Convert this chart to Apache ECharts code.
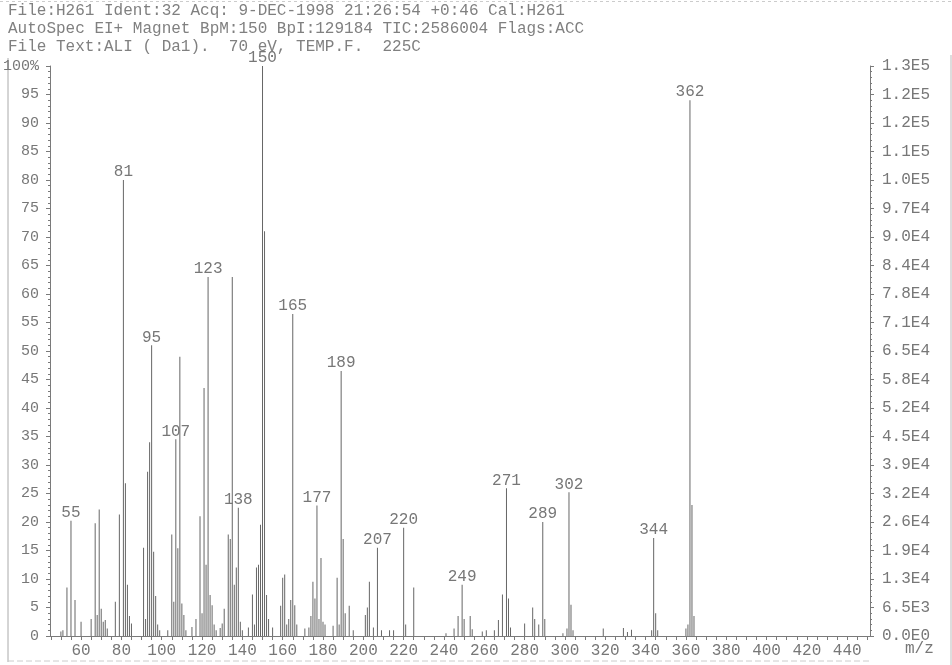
<!DOCTYPE html>
<html>
<head>
<meta charset="utf-8">
<script src="https://cdn.jsdelivr.net/npm/echarts@6/dist/echarts.min.js"></script>
<style>
  html, body { margin: 0; padding: 0; background: #fff; }
  #chart { width: 952px; height: 665px; }
</style>
</head>
<body>
<div id="chart"></div>
<script>
// EI+ spectrum of ALI (Da1): m/z and relative intensity (% of base peak m/z 150)
const peakMz = [
  50, 51, 53, 55, 57, 60, 65, 67, 68, 69, 70, 71, 72, 73, 77, 79, 81, 82, 83, 84, 85,
  91, 92, 93, 94, 95, 96, 97, 98, 99, 103, 105, 106, 107, 108, 109, 110, 111, 112,
  115, 117, 119, 120, 121, 122, 123, 124, 125, 126, 127, 129, 130, 131, 133, 134, 135,
  136, 137, 138, 139, 140, 143, 145, 146, 147, 148, 149, 150, 151, 152, 153, 155,
  159, 160, 161, 162, 163, 164, 165, 166, 167, 171, 173, 174, 175, 176, 177, 178, 179,
  180, 181, 185, 187, 188, 189, 190, 191, 193, 195, 201, 202, 203, 205, 207, 209, 213,
  215, 220, 221, 225, 241, 245, 247, 249, 250, 253, 254, 259, 261, 265, 267, 269, 271,
  272, 273, 280, 284, 285, 287, 289, 290, 299, 301, 302, 303, 304, 319, 329, 331, 333,
  343, 344, 345, 346, 360, 361, 362, 363, 364
];
const peakPct = [
  0.8, 1, 8.5, 20.2, 6.3, 2.5, 3, 19.8, 3.7, 22.2, 4.8, 2.5, 2.8, 1.3, 6, 21.3, 80, 26.8, 9, 3.5, 2.2,
  15.5, 3, 28.8, 34, 51, 14.8, 7, 2, 1, 1, 17.8, 6, 34.5, 15.4, 49, 5.7, 3.7, 1,
  1.6, 3, 21, 4, 43.5, 12.5, 63, 7.2, 5.4, 2, 1, 1.4, 2.2, 4.8, 17.8, 17, 63,
  9, 12, 22.5, 2.5, 1, 1.5, 7.3, 2, 12, 12.5, 19.5, 100, 71, 7.2, 3, 1.5,
  5.3, 10.2, 10.8, 2, 3, 6.3, 56.5, 5.4, 2, 1.3, 1.5, 3.5, 9.5, 6.6, 22.9, 3, 13.7,
  2.5, 2, 1.8, 10.2, 2, 46.5, 17, 4, 5.3, 1, 3.7, 5, 9.5, 1.5, 15.5, 1, 1,
  1, 19, 2, 8.5, 0.5, 1.3, 3.5, 9, 3, 3.5, 1.2, 0.8, 1, 1, 2.8, 7.3, 25.9,
  6.6, 1.5, 2.2, 5, 3, 2, 20, 3, 0.5, 1.3, 25.2, 5.5, 1, 1.3, 1.4, 0.7, 1.1,
  1, 17.2, 4, 1, 1.3, 2, 94, 23, 3.5
];
// peaks annotated with their nominal mass
const labeledMz = [55, 81, 95, 107, 123, 138, 150, 165, 177, 189, 207, 220, 249, 271, 289, 302, 344, 362];

// axis tick labels
const mzTicks = [60, 80, 100, 120, 140, 160, 180, 200, 220, 240, 260, 280, 300, 320, 340, 360, 380, 400, 420, 440];
const pctTicks = ['0', '5', '10', '15', '20', '25', '30', '35', '40', '45', '50', '55', '60', '65', '70', '75', '80', '85', '90', '95', '100%'];
const absTicks = ['0.0E0', '6.5E3', '1.3E4', '1.9E4', '2.6E4', '3.2E4', '3.9E4', '4.5E4', '5.2E4', '5.8E4', '6.5E4',
  '7.1E4', '7.8E4', '8.4E4', '9.0E4', '9.7E4', '1.0E5', '1.1E5', '1.2E5', '1.2E5', '1.3E5'];

const headerLines = [
  'File:H261 Ident:32 Acq: 9-DEC-1998 21:26:54 +0:46 Cal:H261',
  'AutoSpec EI+ Magnet BpM:150 BpI:129184 TIC:2586004 Flags:ACC',
  'File Text:ALI ( Da1).  70 eV, TEMP.F.  225C'
];

const MONO = "'Liberation Mono', 'DejaVu Sans Mono', monospace";
const TXT = '#777';
const LINE = '#7a7a7a';

const minorMz = [];
for (let m = 45; m <= 450; m += 5) minorMz.push(m);

const barData = peakMz.map((m, i) => {
  const item = { value: [m, peakPct[i]] };
  if (labeledMz.includes(m)) {
    item.label = { show: true, formatter: String(m) };
  }
  return item;
});

const chart = echarts.init(document.getElementById('chart'), null, { renderer: 'canvas' });

chart.setOption({
  animation: false,
  backgroundColor: '#fff',
  grid: { left: 48, right: 82, top: 66, bottom: 29 },
  xAxis: {
    type: 'value',
    min: 44.6,
    max: 451.3,
    axisLine: { show: true, lineStyle: { color: LINE, width: 1 } },
    axisTick: { show: true, customValues: minorMz, length: 4, lineStyle: { color: LINE } },
    splitLine: { show: false },
    axisLabel: {
      customValues: mzTicks,
      color: TXT,
      fontFamily: MONO,
      fontSize: 16,
      margin: 7,
      formatter: v => String(v)
    }
  },
  yAxis: [
    {
      type: 'value',
      position: 'left',
      min: 0,
      max: 100,
      interval: 5,
      axisLine: { show: true, lineStyle: { color: LINE } },
      axisTick: { show: true, length: 4, lineStyle: { color: LINE } },
      minorTick: { show: true, splitNumber: 5, length: 2, lineStyle: { color: LINE } },
      splitLine: { show: false },
      axisLabel: {
        color: TXT,
        fontFamily: MONO,
        fontSize: 15,
        margin: 11,
        padding: [0, 0, 6, 0],
        formatter: v => pctTicks[Math.round(v / 5)]
      }
    },
    {
      type: 'value',
      position: 'right',
      min: 0,
      max: 100,
      interval: 5,
      axisLine: { show: true, lineStyle: { color: LINE } },
      axisTick: { show: true, length: 4, lineStyle: { color: LINE } },
      minorTick: { show: true, splitNumber: 5, length: 2, lineStyle: { color: LINE } },
      splitLine: { show: false },
      axisLabel: {
        color: TXT,
        fontFamily: MONO,
        fontSize: 16,
        margin: 12,
        padding: [0, 0, 6, 0],
        formatter: v => absTicks[Math.round(v / 5)]
      }
    }
  ],
  series: [{
    type: 'bar',
    data: barData,
    barWidth: 1,
    barGap: '-100%',
    itemStyle: { color: '#666' },
    label: {
      show: false,
      position: 'top',
      distance: 0,
      color: TXT,
      fontFamily: MONO,
      fontSize: 16
    },
    labelLayout: { hideOverlap: false }
  }],
  graphic: [
    ...headerLines.map((t, i) => ({
      type: 'text',
      left: 8,
      top: 3 + i * 18,
      style: { text: t, fill: '#808080', font: `16px ${MONO}` }
    })),
    {
      type: 'text',
      left: 905,
      top: 641,
      style: { text: 'm/z', fill: TXT, font: `16px ${MONO}` }
    },
    // page frame of the printout
    { type: 'line', shape: { x1: 8, y1: 58, x2: 8, y2: 662 }, style: { stroke: '#aaa', lineWidth: 1 } },
    { type: 'line', shape: { x1: 8, y1: 661, x2: 870, y2: 661 }, style: { stroke: '#ccc', lineWidth: 1, lineDash: [6, 3] } },
    { type: 'line', shape: { x1: 0, y1: 1.5, x2: 952, y2: 1.5 }, style: { stroke: '#ccc', lineWidth: 1, lineDash: [3, 3] } },
    { type: 'line', shape: { x1: 951, y1: 55, x2: 951, y2: 665 }, style: { stroke: '#bbb', lineWidth: 1 } }
  ]
});
</script>
</body>
</html>
